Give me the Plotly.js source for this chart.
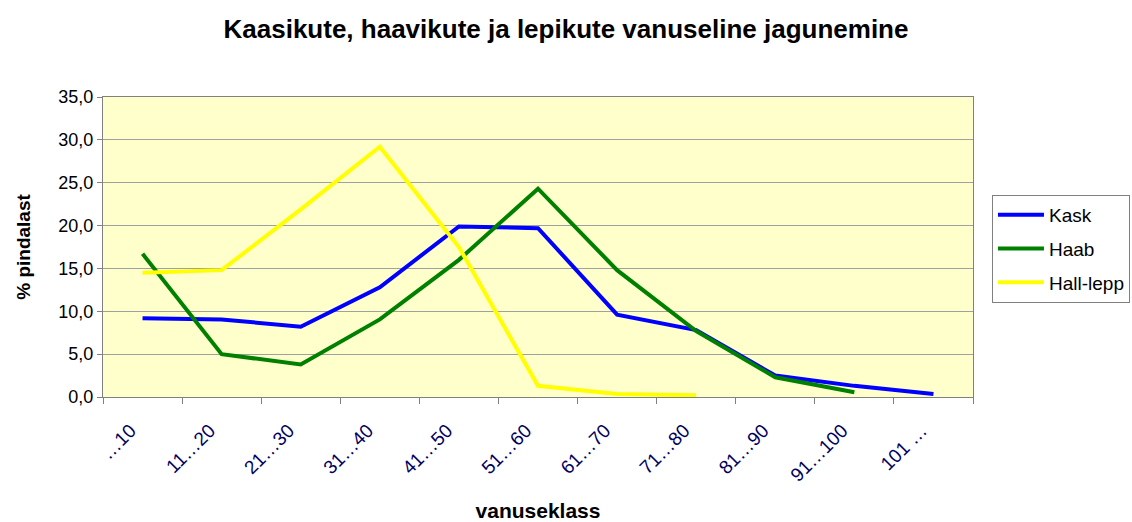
<!DOCTYPE html>
<html><head><meta charset="utf-8">
<script src="https://cdn.plot.ly/plotly-3.0.1.min.js"></script>
<style>html,body{margin:0;padding:0;background:#fff}#c{width:1132px;height:522px}</style>
</head><body><div id="c"></div>
<script>
var categories = ["…10","11…20","21…30","31…40","41…50","51…60","61…70","71…80","81…90","91…100","101 …"];
var kask = [9.2, 9.05, 8.2, 12.8, 19.9, 19.7, 9.6, 7.8, 2.5, 1.3, 0.35];
var haab = [16.7, 5.0, 3.8, 9.05, 16.0, 24.3, 14.8, 7.7, 2.3, 0.55, null];
var hallLepp = [14.5, 14.8, 21.9, 29.2, 17.5, 1.3, 0.35, 0.2, null, null, null];
var yTicks = [0,5,10,15,20,25,30,35];

function tr(name, y, color){
  return {x: categories, y: y, name: name, legendgroup: name, type: 'scatter', mode: 'lines',
    line: {color: color, width: 4}, connectgaps: false};
}
var data = [tr('Kask', kask, '#0000FF'), tr('Haab', haab, '#008000'), tr('Hall-lepp', hallLepp, '#FFFF00')];

var layout = {
  width: 1132, height: 522,
  margin: {l: 103, r: 159, t: 97, b: 125, autoexpand: false},
  paper_bgcolor: '#FFFFFF', plot_bgcolor: '#FFFFCC',
  separators: ',.',
  font: {family: 'Arial, Liberation Sans, sans-serif', color: '#000'},
  title: {text: '<b>Kaasikute, haavikute ja lepikute vanuseline jagunemine</b>',
    font: {size: 26, color: '#000'}, x: 0.5, xanchor: 'center', y: 0.945, yanchor: 'middle'},
  xaxis: {type: 'category', tickangle: -45, tickfont: {size: 19, color: '#000060'},
    ticks: 'outside', tickson: 'boundaries', ticklen: 6, tickcolor: '#808080',
    ticklabelstandoff: 14, ticklabelshift: -12,
    showgrid: false, showline: true, linecolor: '#808080', linewidth: 1, mirror: true,
    range: [-0.5, 10.5], automargin: false,
    title: {text: '<b>vanuseklass</b>', font: {size: 21}, standoff: 26}},
  yaxis: {range: [0, 35], tickvals: yTicks, tickformat: '.1f', tickfont: {size: 18},
    ticks: 'outside', ticklen: 5, tickcolor: '#808080', automargin: false,
    showgrid: true, gridcolor: '#A0A0A0', gridwidth: 1, zeroline: false,
    showline: true, linecolor: '#808080', linewidth: 1, mirror: true,
    title: {text: '<b>% pindalast</b>', font: {size: 19}, standoff: 22}},
  showlegend: true,
  legend: {xref: 'container', yref: 'container', x: 0.8763, xanchor: 'left', y: 0.6264, yanchor: 'top',
    bgcolor: '#FFFFFF', bordercolor: '#808080', borderwidth: 1,
    traceorder: 'grouped', tracegroupgap: 6,
    font: {size: 19, color: '#000'}, itemwidth: 46}
};
Plotly.newPlot('c', data, layout, {displayModeBar: false, staticPlot: true});
</script></body></html>
